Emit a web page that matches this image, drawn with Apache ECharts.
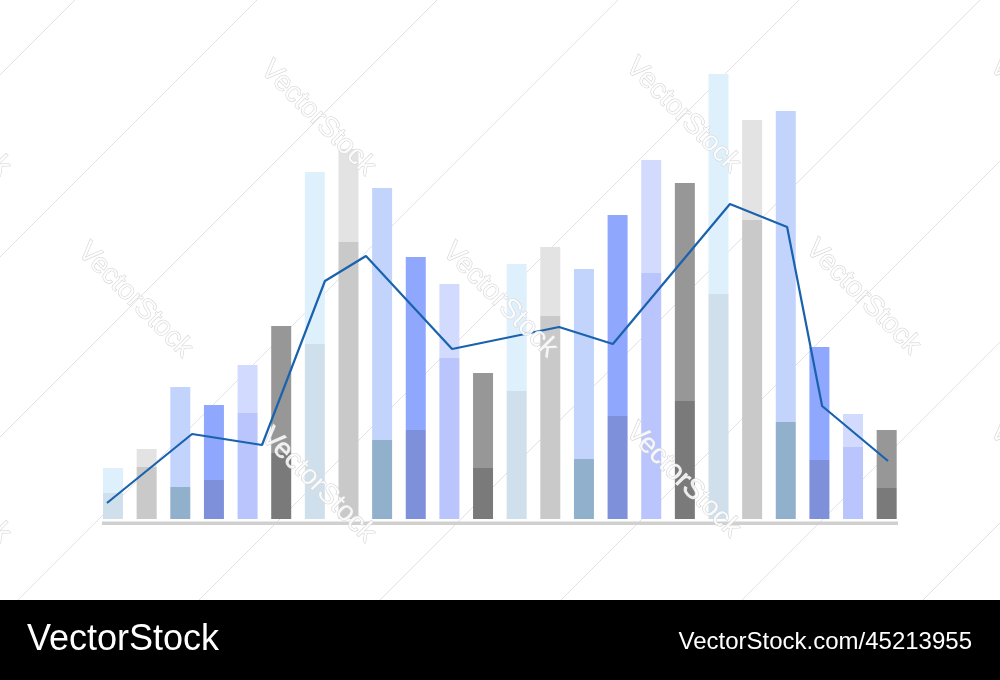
<!DOCTYPE html>
<html>
<head>
<meta charset="utf-8">
<script src="https://cdn.jsdelivr.net/npm/echarts@6/dist/echarts.min.js"></script>
<style>
html,body{margin:0;padding:0;background:#ffffff;}
#chart{width:1000px;height:680px;}
</style>
</head>
<body>
<div id="chart"></div>
<script>
// ---- data ----
var categories = ['1','2','3','4','5','6','7','8','9','10','11','12','13','14','15','16','17','18','19','20','21','22','23','24'];
var barTotals = [51, 70, 132, 114, 154, 193, 347, 370, 331, 262, 235, 146, 255, 272, 250, 304, 359, 336, 445, 399, 408, 172, 105, 89];
var barLowers = [26, 52, 32, 39, 106, 66, 175, 277, 79, 89, 161, 51, 128, 203, 60, 103, 246, 118, 225, 299, 97, 59, 72, 31];
var linePosX = [-0.18, 2.35, 4.43, 6.30, 7.52, 10.08, 13.26, 14.86, 18.34, 20.04, 21.08, 23.04];
var lineValues = [16, 85, 74, 238, 263, 170, 192, 175, 315, 292, 113, 58];
var watermarkText = 'VectorStock';
var footerLeft = 'VectorStock';
var footerRight = 'VectorStock.com/45213955';

// ---- styles ----
var upperColors = ['#dff0fd', '#e3e3e3', '#c2d4fc', '#8fa7fc', '#d2dbfd', '#979797'];
var lowerColors = ['#cfdfeb', '#c9c9c9', '#91b0cc', '#7f90db', '#b9c5fc', '#7a7a7a'];

var lowerData = barLowers.map(function (v, i) {
  return { value: v, itemStyle: { color: lowerColors[i % 6] } };
});
var upperData = barTotals.map(function (t, i) {
  return { value: t - barLowers[i], itemStyle: { color: upperColors[i % 6] } };
});
var lineData = linePosX.map(function (x, i) { return [x, lineValues[i]]; });

// decorative watermark and frame
var graphics = [];
var diagonals = [75, 257, 437, 618, 799, 980, 1161, 1342, 1523];
diagonals.forEach(function (s) {
  graphics.push({
    type: 'line', z: -10, silent: true,
    shape: { x1: 0, y1: s, x2: s, y2: 0 },
    style: { stroke: '#e2e2e2', lineWidth: 1 }
  });
});
// baseline bar under the chart
graphics.push({
  type: 'rect', z: 1, silent: true,
  shape: { x: 102, y: 521.5, width: 796, height: 3.5 },
  style: { fill: '#d0d0d0' }
});
var wmPos = [[-47,118],[318,118],[683,115],[1047,115],[135,300],[500,300],[863,297],[-47,485],[318,485],[683,480],[1047,480]];
wmPos.forEach(function (p) {
  graphics.push({
    type: 'text', z: 100, silent: true,
    x: p[0], y: p[1], rotation: -Math.PI / 4,
    style: {
      text: watermarkText, x: 0, y: 0, align: 'center', verticalAlign: 'middle',
      font: '28px "Liberation Sans", Arial, sans-serif',
      fill: 'rgba(255,255,255,0.85)', stroke: '#d2d2d2', lineWidth: 1
    }
  });
});
graphics.push({
  type: 'rect', z: 110, silent: true,
  shape: { x: 0, y: 600, width: 1000, height: 80 },
  style: { fill: '#000000' }
});
graphics.push({
  type: 'text', z: 120, silent: true, x: 27, y: 640,
  style: { text: footerLeft, align: 'left', verticalAlign: 'middle',
    font: '36px "Liberation Sans", Arial, sans-serif', fill: '#ffffff' }
});
graphics.push({
  type: 'text', z: 120, silent: true, x: 972, y: 642,
  style: { text: footerRight, align: 'right', verticalAlign: 'middle',
    font: '24px "Liberation Sans", Arial, sans-serif', fill: '#ffffff' }
});

var chart = echarts.init(document.getElementById('chart'), null, { renderer: 'canvas' });
chart.setOption({
  backgroundColor: '#ffffff',
  animation: false,
  grid: { left: 96.2, right: 96.5, top: 19, bottom: 161 },
  xAxis: [
    {
      type: 'category', data: categories, boundaryGap: true,
      axisLine: { show: false },
      axisTick: { show: false }, axisLabel: { show: false }, splitLine: { show: false }
    },
    {
      type: 'value', min: -0.5, max: 23.5, show: false
    }
  ],
  yAxis: { type: 'value', min: 0, max: 500, show: false },
  series: [
    { type: 'bar', stack: 'a', barWidth: 20, data: lowerData, xAxisIndex: 0, z: 2 },
    { type: 'bar', stack: 'a', barWidth: 20, data: upperData, xAxisIndex: 0, z: 2 },
    {
      type: 'line', xAxisIndex: 1, data: lineData, showSymbol: false, symbol: 'none',
      lineStyle: { color: '#1a62ad', width: 2.2 }, z: 5
    }
  ],
  graphic: graphics
});
</script>
</body>
</html>
